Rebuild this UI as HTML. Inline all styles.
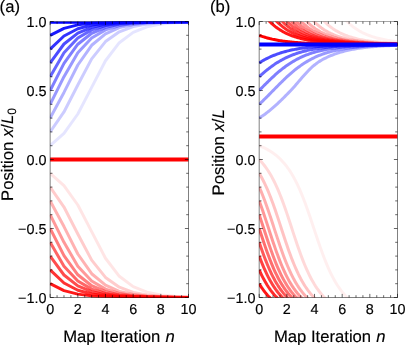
<!DOCTYPE html>
<html><head><meta charset="utf-8"><title>Figure</title>
<style>
html,body{margin:0;padding:0;background:#fff;}
body{width:407px;height:345px;overflow:hidden;position:relative;}
svg text{font-family:"Liberation Sans",sans-serif;fill:#000;stroke:#000;stroke-width:0.15px;text-rendering:geometricPrecision;}
svg{will-change:transform;}
</style></head><body>
<svg width="407" height="345" viewBox="0 0 407 345" style="display:block;position:absolute;left:0;top:0">
<rect width="407" height="345" fill="#fff"/>
<defs>
<clipPath id="c0"><rect x="49.85" y="21.40" width="138.95" height="276.40"/></clipPath>
<clipPath id="c1"><rect x="258.90" y="21.40" width="138.90" height="276.40"/></clipPath>
</defs>
<g clip-path="url(#c0)">
<polyline points="50.15,145.70 63.98,133.28 77.82,114.00 91.66,87.43 105.49,60.74 119.32,42.70 133.16,32.40 147.00,26.90 160.83,24.12 174.66,22.76 188.50,22.10" fill="none" stroke="#0000ff" stroke-opacity="0.100" stroke-width="3.0" stroke-linejoin="round" stroke-linecap="butt"/>
<polyline points="50.15,131.90 63.98,111.96 77.82,85.06 91.66,58.85 105.49,41.58 119.32,31.78 133.16,26.58 147.00,23.96 160.83,22.68 174.66,22.06 188.50,21.77" fill="none" stroke="#0000ff" stroke-opacity="0.200" stroke-width="3.0" stroke-linejoin="round" stroke-linecap="butt"/>
<polyline points="50.15,118.10 63.98,92.43 77.82,65.01 91.66,45.27 105.49,33.83 119.32,27.63 133.16,24.48 147.00,22.93 160.83,22.19 174.66,21.83 188.50,21.66" fill="none" stroke="#0000ff" stroke-opacity="0.300" stroke-width="3.0" stroke-linejoin="round" stroke-linecap="butt"/>
<polyline points="50.15,104.30 63.98,76.70 77.82,52.69 91.66,38.02 105.49,29.85 119.32,25.59 133.16,23.48 147.00,22.45 160.83,21.95 174.66,21.71 188.50,21.60" fill="none" stroke="#0000ff" stroke-opacity="0.400" stroke-width="3.0" stroke-linejoin="round" stroke-linecap="butt"/>
<polyline points="50.15,90.50 63.98,63.31 77.82,44.24 91.66,33.26 105.49,27.34 119.32,24.34 133.16,22.86 147.00,22.15 160.83,21.81 174.66,21.65 188.50,21.57" fill="none" stroke="#0000ff" stroke-opacity="0.500" stroke-width="3.0" stroke-linejoin="round" stroke-linecap="butt"/>
<polyline points="50.15,76.70 63.98,52.69 77.82,38.02 91.66,29.85 105.49,25.59 119.32,23.48 133.16,22.45 147.00,21.95 160.83,21.71 174.66,21.60 188.50,21.55" fill="none" stroke="#0000ff" stroke-opacity="0.600" stroke-width="3.0" stroke-linejoin="round" stroke-linecap="butt"/>
<polyline points="50.15,62.90 63.98,43.99 77.82,33.12 91.66,27.27 105.49,24.30 119.32,22.85 133.16,22.14 147.00,21.81 160.83,21.65 174.66,21.57 188.50,21.53" fill="none" stroke="#0000ff" stroke-opacity="0.700" stroke-width="3.0" stroke-linejoin="round" stroke-linecap="butt"/>
<polyline points="50.15,49.10 63.98,35.99 77.82,28.76 91.66,25.05 105.49,23.21 119.32,22.32 133.16,21.89 147.00,21.69 160.83,21.59 174.66,21.54 188.50,21.52" fill="none" stroke="#0000ff" stroke-opacity="0.800" stroke-width="3.0" stroke-linejoin="round" stroke-linecap="butt"/>
<polyline points="50.15,35.30 63.98,28.40 77.82,24.87 91.66,23.12 105.49,22.27 119.32,21.87 133.16,21.68 147.00,21.58 160.83,21.54 174.66,21.52 188.50,21.51" fill="none" stroke="#0000ff" stroke-opacity="0.900" stroke-width="3.0" stroke-linejoin="round" stroke-linecap="butt"/>
<polyline points="50.15,173.30 63.98,185.72 77.82,205.00 91.66,231.57 105.49,258.26 119.32,276.30 133.16,286.60 147.00,292.10 160.83,294.88 174.66,296.24 188.50,296.90" fill="none" stroke="#ff0000" stroke-opacity="0.100" stroke-width="3.0" stroke-linejoin="round" stroke-linecap="butt"/>
<polyline points="50.15,187.10 63.98,207.04 77.82,233.94 91.66,260.15 105.49,277.42 119.32,287.22 133.16,292.42 147.00,295.04 160.83,296.32 174.66,296.94 188.50,297.23" fill="none" stroke="#ff0000" stroke-opacity="0.200" stroke-width="3.0" stroke-linejoin="round" stroke-linecap="butt"/>
<polyline points="50.15,200.90 63.98,226.57 77.82,253.99 91.66,273.73 105.49,285.17 119.32,291.37 133.16,294.52 147.00,296.07 160.83,296.81 174.66,297.17 188.50,297.34" fill="none" stroke="#ff0000" stroke-opacity="0.300" stroke-width="3.0" stroke-linejoin="round" stroke-linecap="butt"/>
<polyline points="50.15,214.70 63.98,242.30 77.82,266.31 91.66,280.98 105.49,289.15 119.32,293.41 133.16,295.52 147.00,296.55 160.83,297.05 174.66,297.29 188.50,297.40" fill="none" stroke="#ff0000" stroke-opacity="0.400" stroke-width="3.0" stroke-linejoin="round" stroke-linecap="butt"/>
<polyline points="50.15,228.50 63.98,255.69 77.82,274.76 91.66,285.74 105.49,291.66 119.32,294.66 133.16,296.14 147.00,296.85 160.83,297.19 174.66,297.35 188.50,297.43" fill="none" stroke="#ff0000" stroke-opacity="0.500" stroke-width="3.0" stroke-linejoin="round" stroke-linecap="butt"/>
<polyline points="50.15,242.30 63.98,266.31 77.82,280.98 91.66,289.15 105.49,293.41 119.32,295.52 133.16,296.55 147.00,297.05 160.83,297.29 174.66,297.40 188.50,297.45" fill="none" stroke="#ff0000" stroke-opacity="0.600" stroke-width="3.0" stroke-linejoin="round" stroke-linecap="butt"/>
<polyline points="50.15,256.10 63.98,275.01 77.82,285.88 91.66,291.73 105.49,294.70 119.32,296.15 133.16,296.86 147.00,297.19 160.83,297.35 174.66,297.43 188.50,297.47" fill="none" stroke="#ff0000" stroke-opacity="0.700" stroke-width="3.0" stroke-linejoin="round" stroke-linecap="butt"/>
<polyline points="50.15,269.90 63.98,283.01 77.82,290.24 91.66,293.95 105.49,295.79 119.32,296.68 133.16,297.11 147.00,297.31 160.83,297.41 174.66,297.46 188.50,297.48" fill="none" stroke="#ff0000" stroke-opacity="0.800" stroke-width="3.0" stroke-linejoin="round" stroke-linecap="butt"/>
<polyline points="50.15,283.70 63.98,290.60 77.82,294.13 91.66,295.88 105.49,296.73 119.32,297.13 133.16,297.32 147.00,297.42 160.83,297.46 174.66,297.48 188.50,297.49" fill="none" stroke="#ff0000" stroke-opacity="0.900" stroke-width="3.0" stroke-linejoin="round" stroke-linecap="butt"/>
<polyline points="50.15,159.50 188.50,159.50" fill="none" stroke="#ff0000" stroke-opacity="1.000" stroke-width="4.2" stroke-linejoin="round" stroke-linecap="butt"/>
<polyline points="50.15,21.75 188.50,21.75" fill="none" stroke="#0000ff" stroke-opacity="1.000" stroke-width="4.2" stroke-linejoin="round" stroke-linecap="butt"/>
</g>
<g clip-path="url(#c1)">
<polyline points="259.20,145.70 260.35,146.15 261.50,146.63 262.66,147.13 263.81,147.66 264.96,148.22 266.12,148.80 267.27,149.42 268.42,150.07 269.57,150.75 270.72,151.47 271.88,152.22 273.03,153.02 274.18,153.86 275.33,154.74 276.49,155.68 277.64,156.66 278.79,157.69 279.94,158.79 281.10,159.94 282.25,161.15 283.40,162.43 284.56,163.78 285.71,165.20 286.86,166.70 288.01,168.27 289.16,169.94 290.32,171.68 291.47,173.52 292.62,175.46 293.77,177.49 294.93,179.62 296.08,181.85 297.23,184.20 298.38,186.64 299.54,189.20 300.69,191.86 301.84,194.63 303.00,197.50 304.15,200.47 305.30,203.54 306.45,206.69 307.61,209.93 308.76,213.23 309.91,216.60 311.06,220.01 312.21,223.46 313.37,226.93 314.52,230.40 315.67,233.87 316.82,237.31 317.98,240.72 319.13,244.08 320.28,247.38 321.44,250.61 322.59,253.76 323.74,256.82 324.89,259.78 326.04,262.64 327.20,265.40 328.35,268.05 329.50,270.59 330.65,273.03 331.81,275.36 332.96,277.59 334.11,279.71 335.26,281.73 336.42,283.66 337.57,285.49 338.72,287.23 339.88,288.88 341.03,290.45 342.18,291.94 343.33,293.35 344.49,294.69 345.64,295.97 346.79,297.17 347.94,298.32 349.10,299.41 350.25,300.44 351.40,301.41 352.55,302.34 353.70,303.22 354.86,304.06 356.01,304.85 357.16,305.60 358.31,306.32 359.47,307.00 360.62,307.64 361.77,308.26 362.92,308.84 364.08,309.39 365.23,309.92 366.38,310.42 367.53,310.89 368.69,311.34 369.84,311.77 370.99,312.18 372.14,312.57 373.30,312.94 374.45,313.29 375.60,313.63 376.75,313.95 377.91,314.25 379.06,314.54 380.21,314.81 381.37,315.08 382.52,315.33 383.67,315.56 384.82,315.79 385.98,316.01 387.13,316.21 388.28,316.41 389.43,316.60 390.59,316.77 391.74,316.94 392.89,317.11 394.04,317.26 395.19,317.41 396.35,317.55 397.50,317.68" fill="none" stroke="#ff0000" stroke-opacity="0.064" stroke-width="3.0" stroke-linejoin="round" stroke-linecap="butt"/>
<polyline points="259.20,-130.30 260.35,-129.85 261.50,-129.37 262.66,-128.87 263.81,-128.34 264.96,-127.78 266.12,-127.20 267.27,-126.58 268.42,-125.93 269.57,-125.25 270.72,-124.53 271.88,-123.78 273.03,-122.98 274.18,-122.14 275.33,-121.26 276.49,-120.32 277.64,-119.34 278.79,-118.31 279.94,-117.21 281.10,-116.06 282.25,-114.85 283.40,-113.57 284.56,-112.22 285.71,-110.80 286.86,-109.30 288.01,-107.73 289.16,-106.06 290.32,-104.32 291.47,-102.48 292.62,-100.54 293.77,-98.51 294.93,-96.38 296.08,-94.15 297.23,-91.80 298.38,-89.36 299.54,-86.80 300.69,-84.14 301.84,-81.37 303.00,-78.50 304.15,-75.53 305.30,-72.46 306.45,-69.31 307.61,-66.07 308.76,-62.77 309.91,-59.40 311.06,-55.99 312.21,-52.54 313.37,-49.07 314.52,-45.60 315.67,-42.13 316.82,-38.69 317.98,-35.28 319.13,-31.92 320.28,-28.62 321.44,-25.39 322.59,-22.24 323.74,-19.18 324.89,-16.22 326.04,-13.36 327.20,-10.60 328.35,-7.95 329.50,-5.41 330.65,-2.97 331.81,-0.64 332.96,1.59 334.11,3.71 335.26,5.73 336.42,7.66 337.57,9.49 338.72,11.23 339.88,12.88 341.03,14.45 342.18,15.94 343.33,17.35 344.49,18.69 345.64,19.97 346.79,21.17 347.94,22.32 349.10,23.41 350.25,24.44 351.40,25.41 352.55,26.34 353.70,27.22 354.86,28.06 356.01,28.85 357.16,29.60 358.31,30.32 359.47,31.00 360.62,31.64 361.77,32.26 362.92,32.84 364.08,33.39 365.23,33.92 366.38,34.42 367.53,34.89 368.69,35.34 369.84,35.77 370.99,36.18 372.14,36.57 373.30,36.94 374.45,37.29 375.60,37.63 376.75,37.95 377.91,38.25 379.06,38.54 380.21,38.81 381.37,39.08 382.52,39.33 383.67,39.56 384.82,39.79 385.98,40.01 387.13,40.21 388.28,40.41 389.43,40.60 390.59,40.77 391.74,40.94 392.89,41.11 394.04,41.26 395.19,41.41 396.35,41.55 397.50,41.68" fill="none" stroke="#ff0000" stroke-opacity="0.064" stroke-width="3.0" stroke-linejoin="round" stroke-linecap="butt"/>
<polyline points="259.20,159.50 260.35,160.71 261.50,161.99 262.66,163.34 263.81,164.76 264.96,166.26 266.12,167.84 267.27,169.51 268.42,171.26 269.57,173.11 270.72,175.06 271.88,177.11 273.03,179.26 274.18,181.52 275.33,183.88 276.49,186.36 277.64,188.95 278.79,191.65 279.94,194.45 281.10,197.37 282.25,200.39 283.40,203.51 284.56,206.72 285.71,210.01 286.86,213.37 288.01,216.80 289.16,220.28 290.32,223.79 291.47,227.32 292.62,230.85 293.77,234.38 294.93,237.88 296.08,241.34 297.23,244.75 298.38,248.09 299.54,251.35 300.69,254.53 301.84,257.62 303.00,260.61 304.15,263.49 305.30,266.26 306.45,268.92 307.61,271.47 308.76,273.91 309.91,276.24 311.06,278.46 312.21,280.58 313.37,282.59 314.52,284.51 315.67,286.33 316.82,288.05 317.98,289.69 319.13,291.25 320.28,292.72 321.44,294.12 322.59,295.44 323.74,296.70 324.89,297.89 326.04,299.01 327.20,300.08 328.35,301.10 329.50,302.06 330.65,302.97 331.81,303.83 332.96,304.65 334.11,305.42 335.26,306.16 336.42,306.86 337.57,307.52 338.72,308.15 339.88,308.75 341.03,309.31 342.18,309.85 343.33,310.36 344.49,310.85 345.64,311.31 346.79,311.75 347.94,312.17 349.10,312.56 350.25,312.94 351.40,313.30 352.55,313.64 353.70,313.96 354.86,314.27 356.01,314.56 357.16,314.84 358.31,315.11 359.47,315.36 360.62,315.60 361.77,315.83 362.92,316.05 364.08,316.25 365.23,316.45 366.38,316.64 367.53,316.82 368.69,316.99 369.84,317.15 370.99,317.31 372.14,317.46 373.30,317.60 374.45,317.73 375.60,317.86 376.75,317.98 377.91,318.10 379.06,318.21 380.21,318.31 381.37,318.41 382.52,318.51 383.67,318.60 384.82,318.69 385.98,318.77 387.13,318.85 388.28,318.93 389.43,319.00 390.59,319.07 391.74,319.13 392.89,319.20 394.04,319.26 395.19,319.31 396.35,319.37 397.50,319.42" fill="none" stroke="#ff0000" stroke-opacity="0.149" stroke-width="3.0" stroke-linejoin="round" stroke-linecap="butt"/>
<polyline points="259.20,-116.50 260.35,-115.29 261.50,-114.01 262.66,-112.66 263.81,-111.24 264.96,-109.74 266.12,-108.16 267.27,-106.49 268.42,-104.74 269.57,-102.89 270.72,-100.94 271.88,-98.89 273.03,-96.74 274.18,-94.48 275.33,-92.12 276.49,-89.64 277.64,-87.05 278.79,-84.35 279.94,-81.55 281.10,-78.63 282.25,-75.61 283.40,-72.49 284.56,-69.28 285.71,-65.99 286.86,-62.63 288.01,-59.20 289.16,-55.72 290.32,-52.21 291.47,-48.68 292.62,-45.15 293.77,-41.62 294.93,-38.12 296.08,-34.66 297.23,-31.25 298.38,-27.91 299.54,-24.65 300.69,-21.47 301.84,-18.38 303.00,-15.39 304.15,-12.51 305.30,-9.74 306.45,-7.08 307.61,-4.53 308.76,-2.09 309.91,0.24 311.06,2.46 312.21,4.58 313.37,6.59 314.52,8.51 315.67,10.33 316.82,12.05 317.98,13.69 319.13,15.25 320.28,16.72 321.44,18.12 322.59,19.44 323.74,20.70 324.89,21.89 326.04,23.01 327.20,24.08 328.35,25.10 329.50,26.06 330.65,26.97 331.81,27.83 332.96,28.65 334.11,29.42 335.26,30.16 336.42,30.86 337.57,31.52 338.72,32.15 339.88,32.75 341.03,33.31 342.18,33.85 343.33,34.36 344.49,34.85 345.64,35.31 346.79,35.75 347.94,36.17 349.10,36.56 350.25,36.94 351.40,37.30 352.55,37.64 353.70,37.96 354.86,38.27 356.01,38.56 357.16,38.84 358.31,39.11 359.47,39.36 360.62,39.60 361.77,39.83 362.92,40.05 364.08,40.25 365.23,40.45 366.38,40.64 367.53,40.82 368.69,40.99 369.84,41.15 370.99,41.31 372.14,41.46 373.30,41.60 374.45,41.73 375.60,41.86 376.75,41.98 377.91,42.10 379.06,42.21 380.21,42.31 381.37,42.41 382.52,42.51 383.67,42.60 384.82,42.69 385.98,42.77 387.13,42.85 388.28,42.93 389.43,43.00 390.59,43.07 391.74,43.13 392.89,43.20 394.04,43.26 395.19,43.31 396.35,43.37 397.50,43.42" fill="none" stroke="#ff0000" stroke-opacity="0.149" stroke-width="3.0" stroke-linejoin="round" stroke-linecap="butt"/>
<polyline points="259.20,173.30 260.35,175.26 261.50,177.31 262.66,179.48 263.81,181.74 264.96,184.12 266.12,186.61 267.27,189.21 268.42,191.92 269.57,194.74 270.72,197.66 271.88,200.69 273.03,203.82 274.18,207.04 275.33,210.34 276.49,213.71 277.64,217.14 278.79,220.62 279.94,224.13 281.10,227.66 282.25,231.20 283.40,234.72 284.56,238.22 285.71,241.67 286.86,245.08 288.01,248.41 289.16,251.67 290.32,254.84 291.47,257.92 292.62,260.89 293.77,263.76 294.93,266.52 296.08,269.18 297.23,271.72 298.38,274.15 299.54,276.46 300.69,278.68 301.84,280.78 303.00,282.79 304.15,284.69 305.30,286.50 306.45,288.22 307.61,289.85 308.76,291.39 309.91,292.86 311.06,294.25 312.21,295.57 313.37,296.82 314.52,298.00 315.67,299.12 316.82,300.18 317.98,301.19 319.13,302.15 320.28,303.05 321.44,303.91 322.59,304.72 323.74,305.50 324.89,306.23 326.04,306.92 327.20,307.58 328.35,308.21 329.50,308.80 330.65,309.37 331.81,309.90 332.96,310.41 334.11,310.90 335.26,311.35 336.42,311.79 337.57,312.21 338.72,312.60 339.88,312.97 341.03,313.33 342.18,313.67 343.33,313.99 344.49,314.30 345.64,314.59 346.79,314.87 347.94,315.13 349.10,315.38 350.25,315.62 351.40,315.85 352.55,316.07 353.70,316.27 354.86,316.47 356.01,316.66 357.16,316.84 358.31,317.01 359.47,317.17 360.62,317.32 361.77,317.47 362.92,317.61 364.08,317.74 365.23,317.87 366.38,317.99 367.53,318.11 368.69,318.22 369.84,318.32 370.99,318.42 372.14,318.52 373.30,318.61 374.45,318.70 375.60,318.78 376.75,318.86 377.91,318.93 379.06,319.01 380.21,319.07 381.37,319.14 382.52,319.20 383.67,319.26 384.82,319.32 385.98,319.37 387.13,319.42 388.28,319.47 389.43,319.52 390.59,319.56 391.74,319.61 392.89,319.65 394.04,319.69 395.19,319.72 396.35,319.76 397.50,319.79" fill="none" stroke="#ff0000" stroke-opacity="0.234" stroke-width="3.0" stroke-linejoin="round" stroke-linecap="butt"/>
<polyline points="259.20,-102.70 260.35,-100.74 261.50,-98.69 262.66,-96.52 263.81,-94.26 264.96,-91.88 266.12,-89.39 267.27,-86.79 268.42,-84.08 269.57,-81.26 270.72,-78.34 271.88,-75.31 273.03,-72.18 274.18,-68.96 275.33,-65.66 276.49,-62.29 277.64,-58.86 278.79,-55.38 279.94,-51.87 281.10,-48.34 282.25,-44.80 283.40,-41.28 284.56,-37.78 285.71,-34.33 286.86,-30.92 288.01,-27.59 289.16,-24.33 290.32,-21.16 291.47,-18.08 292.62,-15.11 293.77,-12.24 294.93,-9.48 296.08,-6.82 297.23,-4.28 298.38,-1.85 299.54,0.46 300.69,2.68 301.84,4.78 303.00,6.79 304.15,8.69 305.30,10.50 306.45,12.22 307.61,13.85 308.76,15.39 309.91,16.86 311.06,18.25 312.21,19.57 313.37,20.82 314.52,22.00 315.67,23.12 316.82,24.18 317.98,25.19 319.13,26.15 320.28,27.05 321.44,27.91 322.59,28.72 323.74,29.50 324.89,30.23 326.04,30.92 327.20,31.58 328.35,32.21 329.50,32.80 330.65,33.37 331.81,33.90 332.96,34.41 334.11,34.90 335.26,35.35 336.42,35.79 337.57,36.21 338.72,36.60 339.88,36.97 341.03,37.33 342.18,37.67 343.33,37.99 344.49,38.30 345.64,38.59 346.79,38.87 347.94,39.13 349.10,39.38 350.25,39.62 351.40,39.85 352.55,40.07 353.70,40.27 354.86,40.47 356.01,40.66 357.16,40.84 358.31,41.01 359.47,41.17 360.62,41.32 361.77,41.47 362.92,41.61 364.08,41.74 365.23,41.87 366.38,41.99 367.53,42.11 368.69,42.22 369.84,42.32 370.99,42.42 372.14,42.52 373.30,42.61 374.45,42.70 375.60,42.78 376.75,42.86 377.91,42.93 379.06,43.01 380.21,43.07 381.37,43.14 382.52,43.20 383.67,43.26 384.82,43.32 385.98,43.37 387.13,43.42 388.28,43.47 389.43,43.52 390.59,43.56 391.74,43.61 392.89,43.65 394.04,43.69 395.19,43.72 396.35,43.76 397.50,43.79" fill="none" stroke="#ff0000" stroke-opacity="0.234" stroke-width="3.0" stroke-linejoin="round" stroke-linecap="butt"/>
<polyline points="259.20,187.10 260.35,189.72 261.50,192.45 262.66,195.29 263.81,198.24 264.96,201.29 266.12,204.43 267.27,207.67 268.42,210.98 269.57,214.37 270.72,217.81 271.88,221.29 273.03,224.81 274.18,228.34 275.33,231.88 276.49,235.40 277.64,238.89 278.79,242.34 279.94,245.72 281.10,249.05 282.25,252.29 283.40,255.44 284.56,258.50 285.71,261.45 286.86,264.30 288.01,267.04 289.16,269.67 290.32,272.19 291.47,274.60 292.62,276.90 293.77,279.09 294.93,281.18 296.08,283.16 297.23,285.05 298.38,286.84 299.54,288.54 300.69,290.15 301.84,291.68 303.00,293.13 304.15,294.51 305.30,295.81 306.45,297.05 307.61,298.22 308.76,299.33 309.91,300.38 311.06,301.38 312.21,302.33 313.37,303.22 314.52,304.07 315.67,304.88 316.82,305.64 317.98,306.37 319.13,307.05 320.28,307.71 321.44,308.33 322.59,308.91 323.74,309.47 324.89,310.00 326.04,310.51 327.20,310.99 328.35,311.44 329.50,311.87 330.65,312.28 331.81,312.67 332.96,313.04 334.11,313.40 335.26,313.73 336.42,314.05 337.57,314.36 338.72,314.64 339.88,314.92 341.03,315.18 342.18,315.43 343.33,315.67 344.49,315.89 345.64,316.11 346.79,316.31 347.94,316.51 349.10,316.69 350.25,316.87 351.40,317.04 352.55,317.20 353.70,317.35 354.86,317.50 356.01,317.64 357.16,317.77 358.31,317.89 359.47,318.01 360.62,318.13 361.77,318.24 362.92,318.34 364.08,318.44 365.23,318.54 366.38,318.63 367.53,318.71 368.69,318.79 369.84,318.87 370.99,318.95 372.14,319.02 373.30,319.09 374.45,319.15 375.60,319.21 376.75,319.27 377.91,319.33 379.06,319.38 380.21,319.43 381.37,319.48 382.52,319.53 383.67,319.57 384.82,319.62 385.98,319.66 387.13,319.69 388.28,319.73 389.43,319.77 390.59,319.80 391.74,319.83 392.89,319.86 394.04,319.89 395.19,319.92 396.35,319.95 397.50,319.97" fill="none" stroke="#ff0000" stroke-opacity="0.319" stroke-width="3.0" stroke-linejoin="round" stroke-linecap="butt"/>
<polyline points="259.20,-88.90 260.35,-86.28 261.50,-83.55 262.66,-80.71 263.81,-77.76 264.96,-74.71 266.12,-71.57 267.27,-68.33 268.42,-65.02 269.57,-61.63 270.72,-58.19 271.88,-54.71 273.03,-51.19 274.18,-47.66 275.33,-44.12 276.49,-40.60 277.64,-37.11 278.79,-33.66 279.94,-30.28 281.10,-26.95 282.25,-23.71 283.40,-20.56 284.56,-17.50 285.71,-14.55 286.86,-11.70 288.01,-8.96 289.16,-6.33 290.32,-3.81 291.47,-1.40 292.62,0.90 293.77,3.09 294.93,5.18 296.08,7.16 297.23,9.05 298.38,10.84 299.54,12.54 300.69,14.15 301.84,15.68 303.00,17.13 304.15,18.51 305.30,19.81 306.45,21.05 307.61,22.22 308.76,23.33 309.91,24.38 311.06,25.38 312.21,26.33 313.37,27.22 314.52,28.07 315.67,28.88 316.82,29.64 317.98,30.37 319.13,31.05 320.28,31.71 321.44,32.33 322.59,32.91 323.74,33.47 324.89,34.00 326.04,34.51 327.20,34.99 328.35,35.44 329.50,35.87 330.65,36.28 331.81,36.67 332.96,37.04 334.11,37.40 335.26,37.73 336.42,38.05 337.57,38.36 338.72,38.64 339.88,38.92 341.03,39.18 342.18,39.43 343.33,39.67 344.49,39.89 345.64,40.11 346.79,40.31 347.94,40.51 349.10,40.69 350.25,40.87 351.40,41.04 352.55,41.20 353.70,41.35 354.86,41.50 356.01,41.64 357.16,41.77 358.31,41.89 359.47,42.01 360.62,42.13 361.77,42.24 362.92,42.34 364.08,42.44 365.23,42.54 366.38,42.63 367.53,42.71 368.69,42.79 369.84,42.87 370.99,42.95 372.14,43.02 373.30,43.09 374.45,43.15 375.60,43.21 376.75,43.27 377.91,43.33 379.06,43.38 380.21,43.43 381.37,43.48 382.52,43.53 383.67,43.57 384.82,43.62 385.98,43.66 387.13,43.69 388.28,43.73 389.43,43.77 390.59,43.80 391.74,43.83 392.89,43.86 394.04,43.89 395.19,43.92 396.35,43.95 397.50,43.97" fill="none" stroke="#ff0000" stroke-opacity="0.319" stroke-width="3.0" stroke-linejoin="round" stroke-linecap="butt"/>
<polyline points="259.20,200.90 260.35,204.03 261.50,207.26 262.66,210.56 263.81,213.94 264.96,217.37 266.12,220.86 267.27,224.37 268.42,227.90 269.57,231.44 270.72,234.96 271.88,238.45 273.03,241.91 274.18,245.30 275.33,248.63 276.49,251.89 277.64,255.05 278.79,258.12 279.94,261.09 281.10,263.95 282.25,266.71 283.40,269.35 284.56,271.88 285.71,274.31 286.86,276.62 288.01,278.82 289.16,280.92 290.32,282.92 291.47,284.82 292.62,286.62 293.77,288.33 294.93,289.96 296.08,291.50 297.23,292.96 298.38,294.34 299.54,295.65 300.69,296.90 301.84,298.08 303.00,299.19 304.15,300.25 305.30,301.26 306.45,302.21 307.61,303.11 308.76,303.97 309.91,304.78 311.06,305.55 312.21,306.28 313.37,306.97 314.52,307.63 315.67,308.25 316.82,308.84 317.98,309.40 319.13,309.94 320.28,310.45 321.44,310.93 322.59,311.38 323.74,311.82 324.89,312.23 326.04,312.63 327.20,313.00 328.35,313.35 329.50,313.69 330.65,314.01 331.81,314.32 332.96,314.61 334.11,314.89 335.26,315.15 336.42,315.40 337.57,315.64 338.72,315.87 339.88,316.08 341.03,316.29 342.18,316.48 343.33,316.67 344.49,316.85 345.64,317.02 346.79,317.18 347.94,317.33 349.10,317.48 350.25,317.62 351.40,317.75 352.55,317.88 353.70,318.00 354.86,318.12 356.01,318.23 357.16,318.33 358.31,318.43 359.47,318.52 360.62,318.62 361.77,318.70 362.92,318.78 364.08,318.86 365.23,318.94 366.38,319.01 367.53,319.08 368.69,319.14 369.84,319.21 370.99,319.26 372.14,319.32 373.30,319.38 374.45,319.43 375.60,319.48 376.75,319.52 377.91,319.57 379.06,319.61 380.21,319.65 381.37,319.69 382.52,319.73 383.67,319.76 384.82,319.80 385.98,319.83 387.13,319.86 388.28,319.89 389.43,319.92 390.59,319.94 391.74,319.97 392.89,319.99 394.04,320.01 395.19,320.04 396.35,320.06 397.50,320.08" fill="none" stroke="#ff0000" stroke-opacity="0.404" stroke-width="3.0" stroke-linejoin="round" stroke-linecap="butt"/>
<polyline points="259.20,-75.10 260.35,-71.97 261.50,-68.74 262.66,-65.44 263.81,-62.06 264.96,-58.63 266.12,-55.14 267.27,-51.63 268.42,-48.10 269.57,-44.56 270.72,-41.04 271.88,-37.55 273.03,-34.09 274.18,-30.70 275.33,-27.37 276.49,-24.11 277.64,-20.95 278.79,-17.88 279.94,-14.91 281.10,-12.05 282.25,-9.29 283.40,-6.65 284.56,-4.12 285.71,-1.69 286.86,0.62 288.01,2.82 289.16,4.92 290.32,6.92 291.47,8.82 292.62,10.62 293.77,12.33 294.93,13.96 296.08,15.50 297.23,16.96 298.38,18.34 299.54,19.65 300.69,20.90 301.84,22.08 303.00,23.19 304.15,24.25 305.30,25.26 306.45,26.21 307.61,27.11 308.76,27.97 309.91,28.78 311.06,29.55 312.21,30.28 313.37,30.97 314.52,31.63 315.67,32.25 316.82,32.84 317.98,33.40 319.13,33.94 320.28,34.45 321.44,34.93 322.59,35.38 323.74,35.82 324.89,36.23 326.04,36.63 327.20,37.00 328.35,37.35 329.50,37.69 330.65,38.01 331.81,38.32 332.96,38.61 334.11,38.89 335.26,39.15 336.42,39.40 337.57,39.64 338.72,39.87 339.88,40.08 341.03,40.29 342.18,40.48 343.33,40.67 344.49,40.85 345.64,41.02 346.79,41.18 347.94,41.33 349.10,41.48 350.25,41.62 351.40,41.75 352.55,41.88 353.70,42.00 354.86,42.12 356.01,42.23 357.16,42.33 358.31,42.43 359.47,42.52 360.62,42.62 361.77,42.70 362.92,42.78 364.08,42.86 365.23,42.94 366.38,43.01 367.53,43.08 368.69,43.14 369.84,43.21 370.99,43.26 372.14,43.32 373.30,43.38 374.45,43.43 375.60,43.48 376.75,43.52 377.91,43.57 379.06,43.61 380.21,43.65 381.37,43.69 382.52,43.73 383.67,43.76 384.82,43.80 385.98,43.83 387.13,43.86 388.28,43.89 389.43,43.92 390.59,43.94 391.74,43.97 392.89,43.99 394.04,44.01 395.19,44.04 396.35,44.06 397.50,44.08" fill="none" stroke="#ff0000" stroke-opacity="0.404" stroke-width="3.0" stroke-linejoin="round" stroke-linecap="butt"/>
<polyline points="259.20,214.70 260.35,218.15 261.50,221.64 262.66,225.16 263.81,228.69 264.96,232.22 266.12,235.74 267.27,239.23 268.42,242.67 269.57,246.05 270.72,249.37 271.88,252.60 273.03,255.75 274.18,258.79 275.33,261.74 276.49,264.58 277.64,267.31 278.79,269.93 279.94,272.43 281.10,274.83 282.25,277.12 283.40,279.30 284.56,281.38 285.71,283.35 286.86,285.23 288.01,287.01 289.16,288.70 290.32,290.31 291.47,291.83 292.62,293.27 293.77,294.64 294.93,295.94 296.08,297.17 297.23,298.33 298.38,299.44 299.54,300.48 300.69,301.47 301.84,302.42 303.00,303.31 304.15,304.15 305.30,304.95 306.45,305.71 307.61,306.44 308.76,307.12 309.91,307.77 311.06,308.39 312.21,308.97 313.37,309.53 314.52,310.05 315.67,310.56 316.82,311.03 317.98,311.48 319.13,311.91 320.28,312.32 321.44,312.71 322.59,313.08 323.74,313.43 324.89,313.76 326.04,314.08 327.20,314.38 328.35,314.67 329.50,314.95 330.65,315.21 331.81,315.45 332.96,315.69 334.11,315.91 335.26,316.13 336.42,316.33 337.57,316.53 338.72,316.71 339.88,316.89 341.03,317.05 342.18,317.21 343.33,317.37 344.49,317.51 345.64,317.65 346.79,317.78 347.94,317.91 349.10,318.03 350.25,318.14 351.40,318.25 352.55,318.35 353.70,318.45 354.86,318.55 356.01,318.64 357.16,318.72 358.31,318.80 359.47,318.88 360.62,318.95 361.77,319.03 362.92,319.09 364.08,319.16 365.23,319.22 366.38,319.28 367.53,319.33 368.69,319.39 369.84,319.44 370.99,319.49 372.14,319.53 373.30,319.58 374.45,319.62 375.60,319.66 376.75,319.70 377.91,319.73 379.06,319.77 380.21,319.80 381.37,319.83 382.52,319.86 383.67,319.89 384.82,319.92 385.98,319.95 387.13,319.97 388.28,320.00 389.43,320.02 390.59,320.04 391.74,320.06 392.89,320.08 394.04,320.10 395.19,320.12 396.35,320.14 397.50,320.15" fill="none" stroke="#ff0000" stroke-opacity="0.489" stroke-width="3.0" stroke-linejoin="round" stroke-linecap="butt"/>
<polyline points="259.20,-61.30 260.35,-57.85 261.50,-54.36 262.66,-50.84 263.81,-47.31 264.96,-43.78 266.12,-40.26 267.27,-36.77 268.42,-33.33 269.57,-29.95 270.72,-26.63 271.88,-23.40 273.03,-20.25 274.18,-17.21 275.33,-14.26 276.49,-11.42 277.64,-8.69 278.79,-6.07 279.94,-3.57 281.10,-1.17 282.25,1.12 283.40,3.30 284.56,5.38 285.71,7.35 286.86,9.23 288.01,11.01 289.16,12.70 290.32,14.31 291.47,15.83 292.62,17.27 293.77,18.64 294.93,19.94 296.08,21.17 297.23,22.33 298.38,23.44 299.54,24.48 300.69,25.47 301.84,26.42 303.00,27.31 304.15,28.15 305.30,28.95 306.45,29.71 307.61,30.44 308.76,31.12 309.91,31.77 311.06,32.39 312.21,32.97 313.37,33.53 314.52,34.05 315.67,34.56 316.82,35.03 317.98,35.48 319.13,35.91 320.28,36.32 321.44,36.71 322.59,37.08 323.74,37.43 324.89,37.76 326.04,38.08 327.20,38.38 328.35,38.67 329.50,38.95 330.65,39.21 331.81,39.45 332.96,39.69 334.11,39.91 335.26,40.13 336.42,40.33 337.57,40.53 338.72,40.71 339.88,40.89 341.03,41.05 342.18,41.21 343.33,41.37 344.49,41.51 345.64,41.65 346.79,41.78 347.94,41.91 349.10,42.03 350.25,42.14 351.40,42.25 352.55,42.35 353.70,42.45 354.86,42.55 356.01,42.64 357.16,42.72 358.31,42.80 359.47,42.88 360.62,42.95 361.77,43.03 362.92,43.09 364.08,43.16 365.23,43.22 366.38,43.28 367.53,43.33 368.69,43.39 369.84,43.44 370.99,43.49 372.14,43.53 373.30,43.58 374.45,43.62 375.60,43.66 376.75,43.70 377.91,43.73 379.06,43.77 380.21,43.80 381.37,43.83 382.52,43.86 383.67,43.89 384.82,43.92 385.98,43.95 387.13,43.97 388.28,44.00 389.43,44.02 390.59,44.04 391.74,44.06 392.89,44.08 394.04,44.10 395.19,44.12 396.35,44.14 397.50,44.15" fill="none" stroke="#ff0000" stroke-opacity="0.489" stroke-width="3.0" stroke-linejoin="round" stroke-linecap="butt"/>
<polyline points="259.20,228.50 260.35,232.03 261.50,235.55 262.66,239.04 263.81,242.49 264.96,245.87 266.12,249.19 267.27,252.43 268.42,255.58 269.57,258.63 270.72,261.58 271.88,264.43 273.03,267.16 274.18,269.79 275.33,272.30 276.49,274.70 277.64,277.00 278.79,279.18 279.94,281.27 281.10,283.25 282.25,285.13 283.40,286.92 284.56,288.61 285.71,290.22 286.86,291.75 288.01,293.20 289.16,294.57 290.32,295.87 291.47,297.10 292.62,298.27 293.77,299.38 294.93,300.43 296.08,301.42 297.23,302.37 298.38,303.26 299.54,304.11 300.69,304.91 301.84,305.67 303.00,306.40 304.15,307.08 305.30,307.73 306.45,308.35 307.61,308.94 308.76,309.50 309.91,310.03 311.06,310.53 312.21,311.01 313.37,311.46 314.52,311.89 315.67,312.30 316.82,312.69 317.98,313.06 319.13,313.41 320.28,313.75 321.44,314.07 322.59,314.37 323.74,314.66 324.89,314.93 326.04,315.19 327.20,315.44 328.35,315.68 329.50,315.90 330.65,316.12 331.81,316.32 332.96,316.52 334.11,316.70 335.26,316.88 336.42,317.05 337.57,317.21 338.72,317.36 339.88,317.50 341.03,317.64 342.18,317.77 343.33,317.90 344.49,318.02 345.64,318.13 346.79,318.24 347.94,318.35 349.10,318.45 350.25,318.54 351.40,318.63 352.55,318.72 353.70,318.80 354.86,318.88 356.01,318.95 357.16,319.02 358.31,319.09 359.47,319.15 360.62,319.22 361.77,319.27 362.92,319.33 364.08,319.38 365.23,319.44 366.38,319.48 367.53,319.53 368.69,319.57 369.84,319.62 370.99,319.66 372.14,319.70 373.30,319.73 374.45,319.77 375.60,319.80 376.75,319.83 377.91,319.86 379.06,319.89 380.21,319.92 381.37,319.95 382.52,319.97 383.67,320.00 384.82,320.02 385.98,320.04 387.13,320.06 388.28,320.08 389.43,320.10 390.59,320.12 391.74,320.14 392.89,320.15 394.04,320.17 395.19,320.18 396.35,320.20 397.50,320.21" fill="none" stroke="#ff0000" stroke-opacity="0.574" stroke-width="3.0" stroke-linejoin="round" stroke-linecap="butt"/>
<polyline points="259.20,-47.50 260.35,-43.97 261.50,-40.45 262.66,-36.96 263.81,-33.51 264.96,-30.13 266.12,-26.81 267.27,-23.57 268.42,-20.42 269.57,-17.37 270.72,-14.42 271.88,-11.57 273.03,-8.84 274.18,-6.21 275.33,-3.70 276.49,-1.30 277.64,1.00 278.79,3.18 279.94,5.27 281.10,7.25 282.25,9.13 283.40,10.92 284.56,12.61 285.71,14.22 286.86,15.75 288.01,17.20 289.16,18.57 290.32,19.87 291.47,21.10 292.62,22.27 293.77,23.38 294.93,24.43 296.08,25.42 297.23,26.37 298.38,27.26 299.54,28.11 300.69,28.91 301.84,29.67 303.00,30.40 304.15,31.08 305.30,31.73 306.45,32.35 307.61,32.94 308.76,33.50 309.91,34.03 311.06,34.53 312.21,35.01 313.37,35.46 314.52,35.89 315.67,36.30 316.82,36.69 317.98,37.06 319.13,37.41 320.28,37.75 321.44,38.07 322.59,38.37 323.74,38.66 324.89,38.93 326.04,39.19 327.20,39.44 328.35,39.68 329.50,39.90 330.65,40.12 331.81,40.32 332.96,40.52 334.11,40.70 335.26,40.88 336.42,41.05 337.57,41.21 338.72,41.36 339.88,41.50 341.03,41.64 342.18,41.77 343.33,41.90 344.49,42.02 345.64,42.13 346.79,42.24 347.94,42.35 349.10,42.45 350.25,42.54 351.40,42.63 352.55,42.72 353.70,42.80 354.86,42.88 356.01,42.95 357.16,43.02 358.31,43.09 359.47,43.15 360.62,43.22 361.77,43.27 362.92,43.33 364.08,43.38 365.23,43.44 366.38,43.48 367.53,43.53 368.69,43.57 369.84,43.62 370.99,43.66 372.14,43.70 373.30,43.73 374.45,43.77 375.60,43.80 376.75,43.83 377.91,43.86 379.06,43.89 380.21,43.92 381.37,43.95 382.52,43.97 383.67,44.00 384.82,44.02 385.98,44.04 387.13,44.06 388.28,44.08 389.43,44.10 390.59,44.12 391.74,44.14 392.89,44.15 394.04,44.17 395.19,44.18 396.35,44.20 397.50,44.21" fill="none" stroke="#ff0000" stroke-opacity="0.574" stroke-width="3.0" stroke-linejoin="round" stroke-linecap="butt"/>
<polyline points="259.20,242.30 260.35,245.69 261.50,249.01 262.66,252.25 263.81,255.41 264.96,258.47 266.12,261.42 267.27,264.28 268.42,267.02 269.57,269.65 270.72,272.17 271.88,274.58 273.03,276.88 274.18,279.07 275.33,281.16 276.49,283.14 277.64,285.03 278.79,286.82 279.94,288.52 281.10,290.14 282.25,291.67 283.40,293.12 284.56,294.50 285.71,295.80 286.86,297.04 288.01,298.21 289.16,299.32 290.32,300.37 291.47,301.37 292.62,302.32 293.77,303.21 294.93,304.06 296.08,304.87 297.23,305.63 298.38,306.36 299.54,307.05 300.69,307.70 301.84,308.32 303.00,308.91 304.15,309.47 305.30,310.00 306.45,310.50 307.61,310.98 308.76,311.44 309.91,311.87 311.06,312.28 312.21,312.67 313.37,313.04 314.52,313.39 315.67,313.73 316.82,314.05 317.98,314.35 319.13,314.64 320.28,314.92 321.44,315.18 322.59,315.43 323.74,315.66 324.89,315.89 326.04,316.11 327.20,316.31 328.35,316.51 329.50,316.69 330.65,316.87 331.81,317.04 332.96,317.20 334.11,317.35 335.26,317.50 336.42,317.63 337.57,317.77 338.72,317.89 339.88,318.01 341.03,318.13 342.18,318.24 343.33,318.34 344.49,318.44 345.64,318.54 346.79,318.63 347.94,318.71 349.10,318.79 350.25,318.87 351.40,318.95 352.55,319.02 353.70,319.09 354.86,319.15 356.01,319.21 357.16,319.27 358.31,319.33 359.47,319.38 360.62,319.43 361.77,319.48 362.92,319.53 364.08,319.57 365.23,319.61 366.38,319.66 367.53,319.69 368.69,319.73 369.84,319.77 370.99,319.80 372.14,319.83 373.30,319.86 374.45,319.89 375.60,319.92 376.75,319.94 377.91,319.97 379.06,319.99 380.21,320.02 381.37,320.04 382.52,320.06 383.67,320.08 384.82,320.10 385.98,320.12 387.13,320.14 388.28,320.15 389.43,320.17 390.59,320.18 391.74,320.20 392.89,320.21 394.04,320.22 395.19,320.24 396.35,320.25 397.50,320.26" fill="none" stroke="#ff0000" stroke-opacity="0.660" stroke-width="3.0" stroke-linejoin="round" stroke-linecap="butt"/>
<polyline points="259.20,-33.70 260.35,-30.31 261.50,-26.99 262.66,-23.75 263.81,-20.59 264.96,-17.53 266.12,-14.58 267.27,-11.72 268.42,-8.98 269.57,-6.35 270.72,-3.83 271.88,-1.42 273.03,0.88 274.18,3.07 275.33,5.16 276.49,7.14 277.64,9.03 278.79,10.82 279.94,12.52 281.10,14.14 282.25,15.67 283.40,17.12 284.56,18.50 285.71,19.80 286.86,21.04 288.01,22.21 289.16,23.32 290.32,24.37 291.47,25.37 292.62,26.32 293.77,27.21 294.93,28.06 296.08,28.87 297.23,29.63 298.38,30.36 299.54,31.05 300.69,31.70 301.84,32.32 303.00,32.91 304.15,33.47 305.30,34.00 306.45,34.50 307.61,34.98 308.76,35.44 309.91,35.87 311.06,36.28 312.21,36.67 313.37,37.04 314.52,37.39 315.67,37.73 316.82,38.05 317.98,38.35 319.13,38.64 320.28,38.92 321.44,39.18 322.59,39.43 323.74,39.66 324.89,39.89 326.04,40.11 327.20,40.31 328.35,40.51 329.50,40.69 330.65,40.87 331.81,41.04 332.96,41.20 334.11,41.35 335.26,41.50 336.42,41.63 337.57,41.77 338.72,41.89 339.88,42.01 341.03,42.13 342.18,42.24 343.33,42.34 344.49,42.44 345.64,42.54 346.79,42.63 347.94,42.71 349.10,42.79 350.25,42.87 351.40,42.95 352.55,43.02 353.70,43.09 354.86,43.15 356.01,43.21 357.16,43.27 358.31,43.33 359.47,43.38 360.62,43.43 361.77,43.48 362.92,43.53 364.08,43.57 365.23,43.61 366.38,43.66 367.53,43.69 368.69,43.73 369.84,43.77 370.99,43.80 372.14,43.83 373.30,43.86 374.45,43.89 375.60,43.92 376.75,43.94 377.91,43.97 379.06,43.99 380.21,44.02 381.37,44.04 382.52,44.06 383.67,44.08 384.82,44.10 385.98,44.12 387.13,44.14 388.28,44.15 389.43,44.17 390.59,44.18 391.74,44.20 392.89,44.21 394.04,44.22 395.19,44.24 396.35,44.25 397.50,44.26" fill="none" stroke="#ff0000" stroke-opacity="0.660" stroke-width="3.0" stroke-linejoin="round" stroke-linecap="butt"/>
<polyline points="259.20,256.10 260.35,259.14 261.50,262.07 262.66,264.90 263.81,267.61 264.96,270.22 266.12,272.71 267.27,275.10 268.42,277.37 269.57,279.54 270.72,281.61 271.88,283.57 273.03,285.44 274.18,287.21 275.33,288.89 276.49,290.49 277.64,292.00 278.79,293.43 279.94,294.79 281.10,296.08 282.25,297.30 283.40,298.46 284.56,299.56 285.71,300.60 286.86,301.59 288.01,302.52 289.16,303.41 290.32,304.25 291.47,305.04 292.62,305.80 293.77,306.52 294.93,307.20 296.08,307.84 297.23,308.45 298.38,309.04 299.54,309.59 300.69,310.11 301.84,310.61 303.00,311.08 304.15,311.53 305.30,311.96 306.45,312.37 307.61,312.75 308.76,313.12 309.91,313.47 311.06,313.80 312.21,314.12 313.37,314.42 314.52,314.70 315.67,314.98 316.82,315.24 317.98,315.48 319.13,315.72 320.28,315.94 321.44,316.15 322.59,316.35 323.74,316.55 324.89,316.73 326.04,316.91 327.20,317.07 328.35,317.23 329.50,317.38 330.65,317.53 331.81,317.66 332.96,317.80 334.11,317.92 335.26,318.04 336.42,318.15 337.57,318.26 338.72,318.36 339.88,318.46 341.03,318.56 342.18,318.65 343.33,318.73 344.49,318.81 345.64,318.89 346.79,318.96 347.94,319.03 349.10,319.10 350.25,319.16 351.40,319.23 352.55,319.28 353.70,319.34 354.86,319.39 356.01,319.44 357.16,319.49 358.31,319.54 359.47,319.58 360.62,319.62 361.77,319.66 362.92,319.70 364.08,319.74 365.23,319.77 366.38,319.81 367.53,319.84 368.69,319.87 369.84,319.90 370.99,319.92 372.14,319.95 373.30,319.98 374.45,320.00 375.60,320.02 376.75,320.04 377.91,320.06 379.06,320.08 380.21,320.10 381.37,320.12 382.52,320.14 383.67,320.16 384.82,320.17 385.98,320.19 387.13,320.20 388.28,320.21 389.43,320.23 390.59,320.24 391.74,320.25 392.89,320.26 394.04,320.27 395.19,320.28 396.35,320.29 397.50,320.30" fill="none" stroke="#ff0000" stroke-opacity="0.745" stroke-width="3.0" stroke-linejoin="round" stroke-linecap="butt"/>
<polyline points="259.20,-19.90 260.35,-16.86 261.50,-13.93 262.66,-11.10 263.81,-8.39 264.96,-5.78 266.12,-3.29 267.27,-0.90 268.42,1.37 269.57,3.54 270.72,5.61 271.88,7.57 273.03,9.44 274.18,11.21 275.33,12.89 276.49,14.49 277.64,16.00 278.79,17.43 279.94,18.79 281.10,20.08 282.25,21.30 283.40,22.46 284.56,23.56 285.71,24.60 286.86,25.59 288.01,26.52 289.16,27.41 290.32,28.25 291.47,29.04 292.62,29.80 293.77,30.52 294.93,31.20 296.08,31.84 297.23,32.45 298.38,33.04 299.54,33.59 300.69,34.11 301.84,34.61 303.00,35.08 304.15,35.53 305.30,35.96 306.45,36.37 307.61,36.75 308.76,37.12 309.91,37.47 311.06,37.80 312.21,38.12 313.37,38.42 314.52,38.70 315.67,38.98 316.82,39.24 317.98,39.48 319.13,39.72 320.28,39.94 321.44,40.15 322.59,40.35 323.74,40.55 324.89,40.73 326.04,40.91 327.20,41.07 328.35,41.23 329.50,41.38 330.65,41.53 331.81,41.66 332.96,41.80 334.11,41.92 335.26,42.04 336.42,42.15 337.57,42.26 338.72,42.36 339.88,42.46 341.03,42.56 342.18,42.65 343.33,42.73 344.49,42.81 345.64,42.89 346.79,42.96 347.94,43.03 349.10,43.10 350.25,43.16 351.40,43.23 352.55,43.28 353.70,43.34 354.86,43.39 356.01,43.44 357.16,43.49 358.31,43.54 359.47,43.58 360.62,43.62 361.77,43.66 362.92,43.70 364.08,43.74 365.23,43.77 366.38,43.81 367.53,43.84 368.69,43.87 369.84,43.90 370.99,43.92 372.14,43.95 373.30,43.98 374.45,44.00 375.60,44.02 376.75,44.04 377.91,44.06 379.06,44.08 380.21,44.10 381.37,44.12 382.52,44.14 383.67,44.16 384.82,44.17 385.98,44.19 387.13,44.20 388.28,44.21 389.43,44.23 390.59,44.24 391.74,44.25 392.89,44.26 394.04,44.27 395.19,44.28 396.35,44.29 397.50,44.30" fill="none" stroke="#ff0000" stroke-opacity="0.745" stroke-width="3.0" stroke-linejoin="round" stroke-linecap="butt"/>
<polyline points="259.20,269.90 260.35,272.41 261.50,274.81 262.66,277.10 263.81,279.28 264.96,281.35 266.12,283.33 267.27,285.21 268.42,286.99 269.57,288.68 270.72,290.29 271.88,291.81 273.03,293.26 274.18,294.63 275.33,295.92 276.49,297.15 277.64,298.32 278.79,299.43 279.94,300.47 281.10,301.46 282.25,302.41 283.40,303.30 284.56,304.14 285.71,304.95 286.86,305.71 288.01,306.43 289.16,307.11 290.32,307.76 291.47,308.38 292.62,308.96 293.77,309.52 294.93,310.05 296.08,310.55 297.23,311.03 298.38,311.48 299.54,311.91 300.69,312.32 301.84,312.71 303.00,313.08 304.15,313.43 305.30,313.76 306.45,314.08 307.61,314.38 308.76,314.67 309.91,314.94 311.06,315.20 312.21,315.45 313.37,315.69 314.52,315.91 315.67,316.13 316.82,316.33 317.98,316.52 319.13,316.71 320.28,316.88 321.44,317.05 322.59,317.21 323.74,317.36 324.89,317.51 326.04,317.65 327.20,317.78 328.35,317.91 329.50,318.02 330.65,318.14 331.81,318.25 332.96,318.35 334.11,318.45 335.26,318.54 336.42,318.63 337.57,318.72 338.72,318.80 339.88,318.88 341.03,318.95 342.18,319.02 343.33,319.09 344.49,319.16 345.64,319.22 346.79,319.28 347.94,319.33 349.10,319.39 350.25,319.44 351.40,319.49 352.55,319.53 353.70,319.58 354.86,319.62 356.01,319.66 357.16,319.70 358.31,319.73 359.47,319.77 360.62,319.80 361.77,319.83 362.92,319.86 364.08,319.89 365.23,319.92 366.38,319.95 367.53,319.97 368.69,320.00 369.84,320.02 370.99,320.04 372.14,320.06 373.30,320.08 374.45,320.10 375.60,320.12 376.75,320.14 377.91,320.15 379.06,320.17 380.21,320.18 381.37,320.20 382.52,320.21 383.67,320.23 384.82,320.24 385.98,320.25 387.13,320.26 388.28,320.27 389.43,320.28 390.59,320.29 391.74,320.30 392.89,320.31 394.04,320.32 395.19,320.33 396.35,320.34 397.50,320.34" fill="none" stroke="#ff0000" stroke-opacity="0.830" stroke-width="3.0" stroke-linejoin="round" stroke-linecap="butt"/>
<polyline points="259.20,-6.10 260.35,-3.59 261.50,-1.19 262.66,1.10 263.81,3.28 264.96,5.35 266.12,7.33 267.27,9.21 268.42,10.99 269.57,12.68 270.72,14.29 271.88,15.81 273.03,17.26 274.18,18.63 275.33,19.92 276.49,21.15 277.64,22.32 278.79,23.43 279.94,24.47 281.10,25.46 282.25,26.41 283.40,27.30 284.56,28.14 285.71,28.95 286.86,29.71 288.01,30.43 289.16,31.11 290.32,31.76 291.47,32.38 292.62,32.96 293.77,33.52 294.93,34.05 296.08,34.55 297.23,35.03 298.38,35.48 299.54,35.91 300.69,36.32 301.84,36.71 303.00,37.08 304.15,37.43 305.30,37.76 306.45,38.08 307.61,38.38 308.76,38.67 309.91,38.94 311.06,39.20 312.21,39.45 313.37,39.69 314.52,39.91 315.67,40.13 316.82,40.33 317.98,40.52 319.13,40.71 320.28,40.88 321.44,41.05 322.59,41.21 323.74,41.36 324.89,41.51 326.04,41.65 327.20,41.78 328.35,41.91 329.50,42.02 330.65,42.14 331.81,42.25 332.96,42.35 334.11,42.45 335.26,42.54 336.42,42.63 337.57,42.72 338.72,42.80 339.88,42.88 341.03,42.95 342.18,43.02 343.33,43.09 344.49,43.16 345.64,43.22 346.79,43.28 347.94,43.33 349.10,43.39 350.25,43.44 351.40,43.49 352.55,43.53 353.70,43.58 354.86,43.62 356.01,43.66 357.16,43.70 358.31,43.73 359.47,43.77 360.62,43.80 361.77,43.83 362.92,43.86 364.08,43.89 365.23,43.92 366.38,43.95 367.53,43.97 368.69,44.00 369.84,44.02 370.99,44.04 372.14,44.06 373.30,44.08 374.45,44.10 375.60,44.12 376.75,44.14 377.91,44.15 379.06,44.17 380.21,44.18 381.37,44.20 382.52,44.21 383.67,44.23 384.82,44.24 385.98,44.25 387.13,44.26 388.28,44.27 389.43,44.28 390.59,44.29 391.74,44.30 392.89,44.31 394.04,44.32 395.19,44.33 396.35,44.34 397.50,44.34" fill="none" stroke="#ff0000" stroke-opacity="0.830" stroke-width="3.0" stroke-linejoin="round" stroke-linecap="butt"/>
<polyline points="259.20,283.70 260.35,285.56 261.50,287.32 262.66,289.00 263.81,290.59 264.96,292.10 266.12,293.53 267.27,294.88 268.42,296.17 269.57,297.38 270.72,298.54 271.88,299.63 273.03,300.67 274.18,301.65 275.33,302.58 276.49,303.46 277.64,304.30 278.79,305.10 279.94,305.85 281.10,306.56 282.25,307.24 283.40,307.88 284.56,308.49 285.71,309.07 286.86,309.62 288.01,310.15 289.16,310.64 290.32,311.12 291.47,311.56 292.62,311.99 293.77,312.39 294.93,312.78 296.08,313.14 297.23,313.49 298.38,313.82 299.54,314.14 300.69,314.44 301.84,314.72 303.00,314.99 304.15,315.25 305.30,315.50 306.45,315.73 307.61,315.95 308.76,316.17 309.91,316.37 311.06,316.56 312.21,316.74 313.37,316.92 314.52,317.08 315.67,317.24 316.82,317.39 317.98,317.54 319.13,317.67 320.28,317.80 321.44,317.93 322.59,318.05 323.74,318.16 324.89,318.27 326.04,318.37 327.20,318.47 328.35,318.56 329.50,318.65 330.65,318.74 331.81,318.82 332.96,318.89 334.11,318.97 335.26,319.04 336.42,319.11 337.57,319.17 338.72,319.23 339.88,319.29 341.03,319.34 342.18,319.40 343.33,319.45 344.49,319.50 345.64,319.54 346.79,319.58 347.94,319.63 349.10,319.67 350.25,319.70 351.40,319.74 352.55,319.78 353.70,319.81 354.86,319.84 356.01,319.87 357.16,319.90 358.31,319.93 359.47,319.95 360.62,319.98 361.77,320.00 362.92,320.02 364.08,320.05 365.23,320.07 366.38,320.09 367.53,320.10 368.69,320.12 369.84,320.14 370.99,320.16 372.14,320.17 373.30,320.19 374.45,320.20 375.60,320.21 376.75,320.23 377.91,320.24 379.06,320.25 380.21,320.26 381.37,320.27 382.52,320.28 383.67,320.29 384.82,320.30 385.98,320.31 387.13,320.32 388.28,320.33 389.43,320.34 390.59,320.34 391.74,320.35 392.89,320.36 394.04,320.36 395.19,320.37 396.35,320.38 397.50,320.38" fill="none" stroke="#ff0000" stroke-opacity="0.915" stroke-width="3.0" stroke-linejoin="round" stroke-linecap="butt"/>
<polyline points="259.20,7.70 260.35,9.56 261.50,11.32 262.66,13.00 263.81,14.59 264.96,16.10 266.12,17.53 267.27,18.88 268.42,20.17 269.57,21.38 270.72,22.54 271.88,23.63 273.03,24.67 274.18,25.65 275.33,26.58 276.49,27.46 277.64,28.30 278.79,29.10 279.94,29.85 281.10,30.56 282.25,31.24 283.40,31.88 284.56,32.49 285.71,33.07 286.86,33.62 288.01,34.15 289.16,34.64 290.32,35.12 291.47,35.56 292.62,35.99 293.77,36.39 294.93,36.78 296.08,37.14 297.23,37.49 298.38,37.82 299.54,38.14 300.69,38.44 301.84,38.72 303.00,38.99 304.15,39.25 305.30,39.50 306.45,39.73 307.61,39.95 308.76,40.17 309.91,40.37 311.06,40.56 312.21,40.74 313.37,40.92 314.52,41.08 315.67,41.24 316.82,41.39 317.98,41.54 319.13,41.67 320.28,41.80 321.44,41.93 322.59,42.05 323.74,42.16 324.89,42.27 326.04,42.37 327.20,42.47 328.35,42.56 329.50,42.65 330.65,42.74 331.81,42.82 332.96,42.89 334.11,42.97 335.26,43.04 336.42,43.11 337.57,43.17 338.72,43.23 339.88,43.29 341.03,43.34 342.18,43.40 343.33,43.45 344.49,43.50 345.64,43.54 346.79,43.58 347.94,43.63 349.10,43.67 350.25,43.70 351.40,43.74 352.55,43.78 353.70,43.81 354.86,43.84 356.01,43.87 357.16,43.90 358.31,43.93 359.47,43.95 360.62,43.98 361.77,44.00 362.92,44.02 364.08,44.05 365.23,44.07 366.38,44.09 367.53,44.10 368.69,44.12 369.84,44.14 370.99,44.16 372.14,44.17 373.30,44.19 374.45,44.20 375.60,44.21 376.75,44.23 377.91,44.24 379.06,44.25 380.21,44.26 381.37,44.27 382.52,44.28 383.67,44.29 384.82,44.30 385.98,44.31 387.13,44.32 388.28,44.33 389.43,44.34 390.59,44.34 391.74,44.35 392.89,44.36 394.04,44.36 395.19,44.37 396.35,44.38 397.50,44.38" fill="none" stroke="#ff0000" stroke-opacity="0.915" stroke-width="3.0" stroke-linejoin="round" stroke-linecap="butt"/>
<polyline points="259.20,35.30 260.35,35.74 261.50,36.16 262.66,36.55 263.81,36.93 264.96,37.29 266.12,37.63 267.27,37.95 268.42,38.26 269.57,38.56 270.72,38.83 271.88,39.10 273.03,39.35 274.18,39.59 275.33,39.82 276.49,40.04 277.64,40.25 278.79,40.45 279.94,40.64 281.10,40.82 282.25,40.99 283.40,41.15 284.56,41.30 285.71,41.45 286.86,41.59 288.01,41.73 289.16,41.86 290.32,41.98 291.47,42.09 292.62,42.20 293.77,42.31 294.93,42.41 296.08,42.51 297.23,42.60 298.38,42.69 299.54,42.77 300.69,42.85 301.84,42.92 303.00,43.00 304.15,43.07 305.30,43.13 306.45,43.19 307.61,43.25 308.76,43.31 309.91,43.37 311.06,43.42 312.21,43.47 313.37,43.51 314.52,43.56 315.67,43.60 316.82,43.64 317.98,43.68 319.13,43.72 320.28,43.76 321.44,43.79 322.59,43.82 323.74,43.85 324.89,43.88 326.04,43.91 327.20,43.94 328.35,43.96 329.50,43.99 330.65,44.01 331.81,44.03 332.96,44.05 334.11,44.07 335.26,44.09 336.42,44.11 337.57,44.13 338.72,44.15 339.88,44.16 341.03,44.18 342.18,44.19 343.33,44.21 344.49,44.22 345.64,44.23 346.79,44.25 347.94,44.26 349.10,44.27 350.25,44.28 351.40,44.29 352.55,44.30 353.70,44.31 354.86,44.32 356.01,44.32 357.16,44.33 358.31,44.34 359.47,44.35 360.62,44.35 361.77,44.36 362.92,44.37 364.08,44.37 365.23,44.38 366.38,44.38 367.53,44.39 368.69,44.39 369.84,44.40 370.99,44.40 372.14,44.41 373.30,44.41 374.45,44.42 375.60,44.42 376.75,44.42 377.91,44.43 379.06,44.43 380.21,44.43 381.37,44.44 382.52,44.44 383.67,44.44 384.82,44.45 385.98,44.45 387.13,44.45 388.28,44.45 389.43,44.45 390.59,44.46 391.74,44.46 392.89,44.46 394.04,44.46 395.19,44.46 396.35,44.47 397.50,44.47" fill="none" stroke="#ff0000" stroke-opacity="1.000" stroke-width="3.0" stroke-linejoin="round" stroke-linecap="butt"/>
<polyline points="259.20,118.10 260.35,117.36 261.50,116.60 262.66,115.81 263.81,115.00 264.96,114.17 266.12,113.31 267.27,112.43 268.42,111.53 269.57,110.60 270.72,109.66 271.88,108.69 273.03,107.70 274.18,106.69 275.33,105.66 276.49,104.61 277.64,103.54 278.79,102.46 279.94,101.36 281.10,100.24 282.25,99.12 283.40,97.98 284.56,96.83 285.71,95.67 286.86,94.50 288.01,93.33 289.16,92.16 290.32,90.97 291.47,89.75 292.62,88.49 293.77,87.21 294.93,85.89 296.08,84.56 297.23,83.22 298.38,81.87 299.54,80.51 300.69,79.16 301.84,77.82 303.00,76.50 304.15,75.20 305.30,73.92 306.45,72.67 307.61,71.45 308.76,70.27 309.91,69.13 311.06,68.03 312.21,66.97 313.37,65.96 314.52,65.00 315.67,64.08 316.82,63.21 317.98,62.39 319.13,61.61 320.28,60.88 321.44,60.19 322.59,59.55 323.74,58.94 324.89,58.35 326.04,57.79 327.20,57.24 328.35,56.72 329.50,56.21 330.65,55.73 331.81,55.26 332.96,54.81 334.11,54.37 335.26,53.96 336.42,53.56 337.57,53.17 338.72,52.80 339.88,52.44 341.03,52.10 342.18,51.78 343.33,51.46 344.49,51.16 345.64,50.87 346.79,50.60 347.94,50.33 349.10,50.08 350.25,49.83 351.40,49.60 352.55,49.37 353.70,49.16 354.86,48.96 356.01,48.76 357.16,48.57 358.31,48.39 359.47,48.22 360.62,48.05 361.77,47.90 362.92,47.75 364.08,47.60 365.23,47.46 366.38,47.33 367.53,47.21 368.69,47.08 369.84,46.97 370.99,46.86 372.14,46.75 373.30,46.65 374.45,46.56 375.60,46.46 376.75,46.38 377.91,46.29 379.06,46.21 380.21,46.13 381.37,46.06 382.52,45.99 383.67,45.92 384.82,45.86 385.98,45.80 387.13,45.74 388.28,45.68 389.43,45.63 390.59,45.58 391.74,45.53 392.89,45.48 394.04,45.44 395.19,45.40 396.35,45.36 397.50,45.32" fill="none" stroke="#0000ff" stroke-opacity="0.300" stroke-width="3.0" stroke-linejoin="round" stroke-linecap="butt"/>
<polyline points="259.20,104.30 260.35,103.23 261.50,102.14 262.66,101.04 263.81,99.92 264.96,98.79 266.12,97.64 267.27,96.49 268.42,95.33 269.57,94.16 270.72,92.99 271.88,91.81 273.03,90.64 274.18,89.46 275.33,88.28 276.49,87.11 277.64,85.94 278.79,84.77 279.94,83.62 281.10,82.48 282.25,81.34 283.40,80.22 284.56,79.11 285.71,78.02 286.86,76.94 288.01,75.89 289.16,74.85 290.32,73.83 291.47,72.82 292.62,71.84 293.77,70.89 294.93,69.95 296.08,69.04 297.23,68.14 298.38,67.28 299.54,66.43 300.69,65.61 301.84,64.81 303.00,64.03 304.15,63.28 305.30,62.55 306.45,61.85 307.61,61.16 308.76,60.50 309.91,59.86 311.06,59.25 312.21,58.65 313.37,58.07 314.52,57.52 315.67,56.98 316.82,56.47 317.98,55.97 319.13,55.49 320.28,55.03 321.44,54.59 322.59,54.17 323.74,53.76 324.89,53.36 326.04,52.99 327.20,52.62 328.35,52.28 329.50,51.94 330.65,51.62 331.81,51.31 332.96,51.02 334.11,50.74 335.26,50.46 336.42,50.20 337.57,49.95 338.72,49.72 339.88,49.49 341.03,49.27 342.18,49.06 343.33,48.86 344.49,48.67 345.64,48.48 346.79,48.31 347.94,48.14 349.10,47.98 350.25,47.82 351.40,47.67 352.55,47.53 353.70,47.40 354.86,47.27 356.01,47.15 357.16,47.03 358.31,46.91 359.47,46.81 360.62,46.70 361.77,46.60 362.92,46.51 364.08,46.42 365.23,46.33 366.38,46.25 367.53,46.17 368.69,46.10 369.84,46.03 370.99,45.96 372.14,45.89 373.30,45.83 374.45,45.77 375.60,45.71 376.75,45.66 377.91,45.61 379.06,45.56 380.21,45.51 381.37,45.46 382.52,45.42 383.67,45.38 384.82,45.34 385.98,45.30 387.13,45.26 388.28,45.23 389.43,45.20 390.59,45.16 391.74,45.13 392.89,45.11 394.04,45.08 395.19,45.05 396.35,45.03 397.50,45.00" fill="none" stroke="#0000ff" stroke-opacity="0.400" stroke-width="3.0" stroke-linejoin="round" stroke-linecap="butt"/>
<polyline points="259.20,90.50 260.35,89.32 261.50,88.14 262.66,86.97 263.81,85.80 264.96,84.64 266.12,83.49 267.27,82.34 268.42,81.21 269.57,80.09 270.72,78.99 271.88,77.90 273.03,76.82 274.18,75.77 275.33,74.73 276.49,73.71 277.64,72.71 278.79,71.73 279.94,70.78 281.10,69.84 282.25,68.93 283.40,68.04 284.56,67.18 285.71,66.33 286.86,65.52 288.01,64.72 289.16,63.95 290.32,63.20 291.47,62.47 292.62,61.77 293.77,61.09 294.93,60.43 296.08,59.79 297.23,59.18 298.38,58.58 299.54,58.01 300.69,57.46 301.84,56.92 303.00,56.41 304.15,55.92 305.30,55.44 306.45,54.98 307.61,54.54 308.76,54.12 309.91,53.71 311.06,53.32 312.21,52.94 313.37,52.58 314.52,52.24 315.67,51.90 316.82,51.58 317.98,51.28 319.13,50.98 320.28,50.70 321.44,50.43 322.59,50.17 323.74,49.93 324.89,49.69 326.04,49.46 327.20,49.24 328.35,49.04 329.50,48.84 330.65,48.64 331.81,48.46 332.96,48.29 334.11,48.12 335.26,47.96 336.42,47.80 337.57,47.66 338.72,47.52 339.88,47.38 341.03,47.25 342.18,47.13 343.33,47.01 344.49,46.90 345.64,46.79 346.79,46.69 347.94,46.59 349.10,46.50 350.25,46.41 351.40,46.32 352.55,46.24 353.70,46.16 354.86,46.09 356.01,46.02 357.16,45.95 358.31,45.88 359.47,45.82 360.62,45.76 361.77,45.71 362.92,45.65 364.08,45.60 365.23,45.55 366.38,45.50 367.53,45.46 368.69,45.41 369.84,45.37 370.99,45.33 372.14,45.30 373.30,45.26 374.45,45.23 375.60,45.19 376.75,45.16 377.91,45.13 379.06,45.10 380.21,45.08 381.37,45.05 382.52,45.02 383.67,45.00 384.82,44.98 385.98,44.96 387.13,44.94 388.28,44.92 389.43,44.90 390.59,44.88 391.74,44.86 392.89,44.85 394.04,44.83 395.19,44.82 396.35,44.80 397.50,44.79" fill="none" stroke="#0000ff" stroke-opacity="0.500" stroke-width="3.0" stroke-linejoin="round" stroke-linecap="butt"/>
<polyline points="259.20,76.70 260.35,75.65 261.50,74.61 262.66,73.59 263.81,72.60 264.96,71.62 266.12,70.67 267.27,69.74 268.42,68.83 269.57,67.94 270.72,67.08 271.88,66.24 273.03,65.42 274.18,64.63 275.33,63.86 276.49,63.11 277.64,62.39 278.79,61.69 279.94,61.01 281.10,60.35 282.25,59.72 283.40,59.11 284.56,58.52 285.71,57.95 286.86,57.39 288.01,56.86 289.16,56.35 290.32,55.86 291.47,55.39 292.62,54.93 293.77,54.49 294.93,54.07 296.08,53.67 297.23,53.28 298.38,52.90 299.54,52.54 300.69,52.20 301.84,51.87 303.00,51.55 304.15,51.24 305.30,50.95 306.45,50.67 307.61,50.40 308.76,50.15 309.91,49.90 311.06,49.66 312.21,49.44 313.37,49.22 314.52,49.01 315.67,48.81 316.82,48.62 317.98,48.44 319.13,48.27 320.28,48.10 321.44,47.94 322.59,47.79 323.74,47.64 324.89,47.50 326.04,47.37 327.20,47.24 328.35,47.12 329.50,47.00 330.65,46.89 331.81,46.78 332.96,46.68 334.11,46.58 335.26,46.49 336.42,46.40 337.57,46.31 338.72,46.23 339.88,46.16 341.03,46.08 342.18,46.01 343.33,45.94 344.49,45.88 345.64,45.82 346.79,45.76 347.94,45.70 349.10,45.65 350.25,45.59 351.40,45.54 352.55,45.50 353.70,45.45 354.86,45.41 356.01,45.37 357.16,45.33 358.31,45.29 359.47,45.26 360.62,45.22 361.77,45.19 362.92,45.16 364.08,45.13 365.23,45.10 366.38,45.07 367.53,45.05 368.69,45.02 369.84,45.00 370.99,44.98 372.14,44.95 373.30,44.93 374.45,44.91 375.60,44.90 376.75,44.88 377.91,44.86 379.06,44.84 380.21,44.83 381.37,44.81 382.52,44.80 383.67,44.79 384.82,44.77 385.98,44.76 387.13,44.75 388.28,44.74 389.43,44.73 390.59,44.72 391.74,44.71 392.89,44.70 394.04,44.69 395.19,44.68 396.35,44.67 397.50,44.66" fill="none" stroke="#0000ff" stroke-opacity="0.600" stroke-width="3.0" stroke-linejoin="round" stroke-linecap="butt"/>
<polyline points="259.20,62.90 260.35,62.18 261.50,61.49 262.66,60.82 263.81,60.17 264.96,59.54 266.12,58.93 267.27,58.35 268.42,57.78 269.57,57.24 270.72,56.71 271.88,56.21 273.03,55.72 274.18,55.25 275.33,54.80 276.49,54.37 277.64,53.95 278.79,53.55 279.94,53.17 281.10,52.80 282.25,52.44 283.40,52.10 284.56,51.77 285.71,51.46 286.86,51.16 288.01,50.87 289.16,50.59 290.32,50.33 291.47,50.07 292.62,49.83 293.77,49.60 294.93,49.37 296.08,49.16 297.23,48.95 298.38,48.76 299.54,48.57 300.69,48.39 301.84,48.22 303.00,48.05 304.15,47.90 305.30,47.74 306.45,47.60 307.61,47.46 308.76,47.33 309.91,47.20 311.06,47.08 312.21,46.97 313.37,46.86 314.52,46.75 315.67,46.65 316.82,46.56 317.98,46.46 319.13,46.38 320.28,46.29 321.44,46.21 322.59,46.13 323.74,46.06 324.89,45.99 326.04,45.92 327.20,45.86 328.35,45.80 329.50,45.74 330.65,45.68 331.81,45.63 332.96,45.58 334.11,45.53 335.26,45.48 336.42,45.44 337.57,45.40 338.72,45.36 339.88,45.32 341.03,45.28 342.18,45.25 343.33,45.21 344.49,45.18 345.64,45.15 346.79,45.12 347.94,45.09 349.10,45.06 350.25,45.04 351.40,45.01 352.55,44.99 353.70,44.97 354.86,44.95 356.01,44.93 357.16,44.91 358.31,44.89 359.47,44.87 360.62,44.86 361.77,44.84 362.92,44.82 364.08,44.81 365.23,44.80 366.38,44.78 367.53,44.77 368.69,44.76 369.84,44.75 370.99,44.73 372.14,44.72 373.30,44.71 374.45,44.70 375.60,44.69 376.75,44.69 377.91,44.68 379.06,44.67 380.21,44.66 381.37,44.65 382.52,44.65 383.67,44.64 384.82,44.63 385.98,44.63 387.13,44.62 388.28,44.62 389.43,44.61 390.59,44.61 391.74,44.60 392.89,44.60 394.04,44.59 395.19,44.59 396.35,44.58 397.50,44.58" fill="none" stroke="#0000ff" stroke-opacity="0.700" stroke-width="3.0" stroke-linejoin="round" stroke-linecap="butt"/>
<polyline points="259.20,136.50 397.50,136.50" fill="none" stroke="#ff0000" stroke-opacity="1.000" stroke-width="4.2" stroke-linejoin="round" stroke-linecap="butt"/>
<polyline points="259.20,44.50 397.50,44.50" fill="none" stroke="#0000ff" stroke-opacity="1.000" stroke-width="4.2" stroke-linejoin="round" stroke-linecap="butt"/>
</g>
<path d="M50.15 21.50H188.50" stroke="#000" stroke-width="0.35" fill="none"/>
<path d="M50.15 21.50V297.50H188.50V21.50" stroke="#000" stroke-width="0.5" fill="none"/>
<path d="M50.15 297.50h3.6M188.50 297.50h-3.6M50.15 283.70h2.3M188.50 283.70h-2.3M50.15 269.90h2.3M188.50 269.90h-2.3M50.15 256.10h2.3M188.50 256.10h-2.3M50.15 242.30h2.3M188.50 242.30h-2.3M50.15 228.50h3.6M188.50 228.50h-3.6M50.15 214.70h2.3M188.50 214.70h-2.3M50.15 200.90h2.3M188.50 200.90h-2.3M50.15 187.10h2.3M188.50 187.10h-2.3M50.15 173.30h2.3M188.50 173.30h-2.3M50.15 159.50h3.6M188.50 159.50h-3.6M50.15 145.70h2.3M188.50 145.70h-2.3M50.15 131.90h2.3M188.50 131.90h-2.3M50.15 118.10h2.3M188.50 118.10h-2.3M50.15 104.30h2.3M188.50 104.30h-2.3M50.15 90.50h3.6M188.50 90.50h-3.6M50.15 76.70h2.3M188.50 76.70h-2.3M50.15 62.90h2.3M188.50 62.90h-2.3M50.15 49.10h2.3M188.50 49.10h-2.3M50.15 35.30h2.3M188.50 35.30h-2.3M50.15 21.50h3.6M188.50 21.50h-3.6M50.15 21.50v3.6M50.15 297.50v-3.6M57.07 21.50v2.3M57.07 297.50v-2.3M63.98 21.50v2.3M63.98 297.50v-2.3M70.90 21.50v2.3M70.90 297.50v-2.3M77.82 21.50v3.6M77.82 297.50v-3.6M84.74 21.50v2.3M84.74 297.50v-2.3M91.66 21.50v2.3M91.66 297.50v-2.3M98.57 21.50v2.3M98.57 297.50v-2.3M105.49 21.50v3.6M105.49 297.50v-3.6M112.41 21.50v2.3M112.41 297.50v-2.3M119.32 21.50v2.3M119.32 297.50v-2.3M126.24 21.50v2.3M126.24 297.50v-2.3M133.16 21.50v3.6M133.16 297.50v-3.6M140.08 21.50v2.3M140.08 297.50v-2.3M147.00 21.50v2.3M147.00 297.50v-2.3M153.91 21.50v2.3M153.91 297.50v-2.3M160.83 21.50v3.6M160.83 297.50v-3.6M167.75 21.50v2.3M167.75 297.50v-2.3M174.66 21.50v2.3M174.66 297.50v-2.3M181.58 21.50v2.3M181.58 297.50v-2.3M188.50 21.50v3.6M188.50 297.50v-3.6" stroke="#000" stroke-width="0.6" fill="none"/>
<text x="46.45" y="26.80" font-size="14.4" text-anchor="end">1.0</text>
<text x="46.45" y="95.80" font-size="14.4" text-anchor="end">0.5</text>
<text x="46.45" y="164.80" font-size="14.4" text-anchor="end">0.0</text>
<text x="46.45" y="233.80" font-size="14.4" text-anchor="end">−0.5</text>
<text x="46.45" y="302.80" font-size="14.4" text-anchor="end">−1.0</text>
<text x="50.15" y="314.4" font-size="14.4" text-anchor="middle">0</text>
<text x="77.82" y="314.4" font-size="14.4" text-anchor="middle">2</text>
<text x="105.49" y="314.4" font-size="14.4" text-anchor="middle">4</text>
<text x="133.16" y="314.4" font-size="14.4" text-anchor="middle">6</text>
<text x="160.83" y="314.4" font-size="14.4" text-anchor="middle">8</text>
<text x="188.50" y="314.4" font-size="14.4" text-anchor="middle">10</text>
<text x="118.98" y="342.4" font-size="16.65" text-anchor="middle">Map Iteration <tspan font-style="italic" dx="0.5">n</tspan></text>
<path d="M259.20 21.50H397.50" stroke="#000" stroke-width="0.35" fill="none"/>
<path d="M259.20 21.50V297.50H397.50V21.50" stroke="#000" stroke-width="0.5" fill="none"/>
<path d="M259.20 297.50h3.6M397.50 297.50h-3.6M259.20 283.70h2.3M397.50 283.70h-2.3M259.20 269.90h2.3M397.50 269.90h-2.3M259.20 256.10h2.3M397.50 256.10h-2.3M259.20 242.30h2.3M397.50 242.30h-2.3M259.20 228.50h3.6M397.50 228.50h-3.6M259.20 214.70h2.3M397.50 214.70h-2.3M259.20 200.90h2.3M397.50 200.90h-2.3M259.20 187.10h2.3M397.50 187.10h-2.3M259.20 173.30h2.3M397.50 173.30h-2.3M259.20 159.50h3.6M397.50 159.50h-3.6M259.20 145.70h2.3M397.50 145.70h-2.3M259.20 131.90h2.3M397.50 131.90h-2.3M259.20 118.10h2.3M397.50 118.10h-2.3M259.20 104.30h2.3M397.50 104.30h-2.3M259.20 90.50h3.6M397.50 90.50h-3.6M259.20 76.70h2.3M397.50 76.70h-2.3M259.20 62.90h2.3M397.50 62.90h-2.3M259.20 49.10h2.3M397.50 49.10h-2.3M259.20 35.30h2.3M397.50 35.30h-2.3M259.20 21.50h3.6M397.50 21.50h-3.6M259.20 21.50v3.6M259.20 297.50v-3.6M266.12 21.50v2.3M266.12 297.50v-2.3M273.03 21.50v2.3M273.03 297.50v-2.3M279.94 21.50v2.3M279.94 297.50v-2.3M286.86 21.50v3.6M286.86 297.50v-3.6M293.77 21.50v2.3M293.77 297.50v-2.3M300.69 21.50v2.3M300.69 297.50v-2.3M307.61 21.50v2.3M307.61 297.50v-2.3M314.52 21.50v3.6M314.52 297.50v-3.6M321.44 21.50v2.3M321.44 297.50v-2.3M328.35 21.50v2.3M328.35 297.50v-2.3M335.26 21.50v2.3M335.26 297.50v-2.3M342.18 21.50v3.6M342.18 297.50v-3.6M349.10 21.50v2.3M349.10 297.50v-2.3M356.01 21.50v2.3M356.01 297.50v-2.3M362.92 21.50v2.3M362.92 297.50v-2.3M369.84 21.50v3.6M369.84 297.50v-3.6M376.75 21.50v2.3M376.75 297.50v-2.3M383.67 21.50v2.3M383.67 297.50v-2.3M390.59 21.50v2.3M390.59 297.50v-2.3M397.50 21.50v3.6M397.50 297.50v-3.6" stroke="#000" stroke-width="0.6" fill="none"/>
<text x="255.50" y="26.80" font-size="14.4" text-anchor="end">1.0</text>
<text x="255.50" y="95.80" font-size="14.4" text-anchor="end">0.5</text>
<text x="255.50" y="164.80" font-size="14.4" text-anchor="end">0.0</text>
<text x="255.50" y="233.80" font-size="14.4" text-anchor="end">−0.5</text>
<text x="255.50" y="302.80" font-size="14.4" text-anchor="end">−1.0</text>
<text x="259.20" y="314.4" font-size="14.4" text-anchor="middle">0</text>
<text x="286.86" y="314.4" font-size="14.4" text-anchor="middle">2</text>
<text x="314.52" y="314.4" font-size="14.4" text-anchor="middle">4</text>
<text x="342.18" y="314.4" font-size="14.4" text-anchor="middle">6</text>
<text x="369.84" y="314.4" font-size="14.4" text-anchor="middle">8</text>
<text x="397.50" y="314.4" font-size="14.4" text-anchor="middle">10</text>
<text x="329.75" y="342.4" font-size="16.65" text-anchor="middle">Map Iteration <tspan font-style="italic" dx="0.5">n</tspan></text>
<text transform="translate(13.0,200.9) rotate(-90)" font-size="16.65">Position <tspan font-style="italic">x</tspan>/<tspan font-style="italic">L</tspan><tspan font-size="12.15" dy="2.8">0</tspan></text>
<text transform="translate(224.0,195.4) rotate(-90)" font-size="16.65">Position <tspan font-style="italic">x</tspan>/<tspan font-style="italic">L</tspan></text>
<text x="-0.4" y="11.7" font-size="16.65">(a)</text>
<text x="209.9" y="11.8" font-size="16.65">(b)</text>
</svg>
</body></html>
